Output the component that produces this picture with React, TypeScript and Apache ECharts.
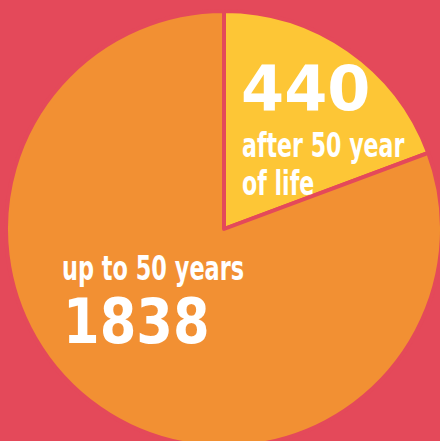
import React, { useEffect, useRef } from "react";
import * as echarts from "echarts";

const categories = ["after 50 year of life", "up to 50 years"];
const values = [440, 1838];
const labelLines = [["after 50 year", "of life"], ["up to 50 years"]];

const BG = "#E4495A";
const COLORS = ["#FDC636", "#F29033"];

const numStyle = {
  fontFamily: "DejaVu Sans",
  fontWeight: "bold",
  fontSize: 62,
  fill: "#fff",
  align: "left",
  verticalAlign: "middle",
};
const txtStyle = {
  fontFamily: "DejaVu Sans",
  fontWeight: "bold",
  fontSize: 33,
  fill: "#fff",
  align: "left",
  verticalAlign: "middle",
};

export default function App() {
  const ref = useRef<HTMLDivElement>(null);

  useEffect(() => {
    document.body.style.margin = "0";
    const chart = echarts.init(ref.current!, null, { renderer: "svg" });
    const data = categories.map((name, i) => ({
      name,
      value: values[i],
      itemStyle: { color: COLORS[i] },
    }));
    const graphics: any[] = [
      { type: "text", z: 100, x: 241, y: 88.5, style: { ...numStyle, text: String(values[0]) } },
      ...labelLines[0].map((l, k) => ({
        type: "text",
        z: 100,
        x: 242,
        y: 145.6 + k * 38,
        scaleX: 0.67,
        style: { ...txtStyle, text: l },
      })),
      ...labelLines[1].map((l, k) => ({
        type: "text",
        z: 100,
        x: 62,
        y: 268.6 + k * 38,
        scaleX: 0.68,
        style: { ...txtStyle, text: l },
      })),
      { type: "text", z: 100, x: 63, y: 321.5, scaleX: 0.85, style: { ...numStyle, text: String(values[1]) } },
    ];
    chart.setOption({
      animation: false,
      backgroundColor: BG,
      series: [
        {
          type: "pie",
          z: 1,
          center: [224, 229],
          radius: [0, 218],
          startAngle: 90,
          clockwise: true,
          silent: true,
          data,
          itemStyle: { borderColor: BG, borderWidth: 4 },
          labelLine: { show: false },
          label: { show: false },
        },
      ],
      graphic: { elements: graphics },
    });
    return () => chart.dispose();
  }, []);

  return <div ref={ref} style={{ width: 440, height: 441 }} />;
}
